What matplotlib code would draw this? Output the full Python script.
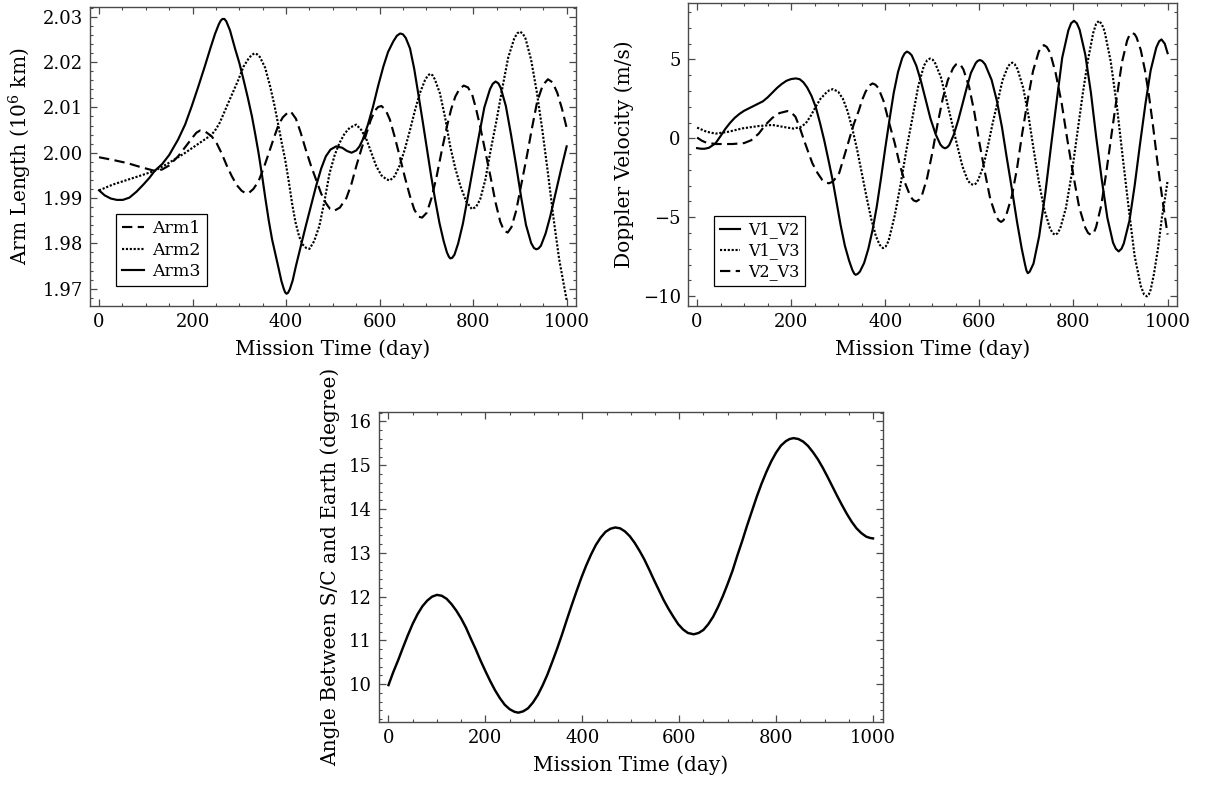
import numpy as np
import matplotlib
matplotlib.use("Agg")
import matplotlib.pyplot as plt
from matplotlib.ticker import MultipleLocator, FormatStrFormatter

# ------------------------------------------------------------
# data (day, value)
# ------------------------------------------------------------
arm1 = [(0, 1.9990), (30, 1.9984), (61, 1.9977), (90, 1.9968), (119, 1.9960), (135, 1.9963),
        (150, 1.9972), (169, 1.9992), (184, 2.0012), (198, 2.0031), (208, 2.0044), (216, 2.0049),
        (228, 2.0046), (241, 2.0036), (252, 2.0020), (262, 1.9999), (273, 1.9972), (284, 1.9948),
        (295, 1.9928), (305, 1.9916), (313, 1.9911), (320, 1.9911), (330, 1.9920), (341, 1.9937),
        (352, 1.9966), (363, 1.9999), (374, 2.0033), (384, 2.0062), (393, 2.0078), (402, 2.0087),
        (410, 2.0091), (421, 2.0075), (431, 2.0045), (442, 2.0007), (453, 1.9972), (464, 1.9941),
        (475, 1.9910), (485, 1.9889), (494, 1.9876), (503, 1.9872), (515, 1.9879), (529, 1.9900),
        (540, 1.9932), (550, 1.9970), (561, 2.0008), (572, 2.0043), (581, 2.0072), (590, 2.0093),
        (597, 2.0101), (604, 2.0103), (613, 2.0094), (622, 2.0073), (632, 2.0036), (643, 1.9992),
        (654, 1.9946), (665, 1.9904), (674, 1.9875), (683, 1.9859), (691, 1.9857), (701, 1.9868),
        (711, 1.9900), (722, 1.9948), (733, 2.0005), (744, 2.0058), (753, 2.0096), (762, 2.0124),
        (771, 2.0141), (780, 2.0148), (789, 2.0144), (798, 2.0128), (806, 2.0098), (815, 2.0058),
        (826, 2.0003), (837, 1.9948), (848, 1.9890), (858, 1.9848), (866, 1.9828), (874, 1.9824),
        (882, 1.9836), (892, 1.9872), (903, 1.9930), (915, 1.9993), (926, 2.0055), (937, 2.0113),
        (949, 2.0149), (960, 2.0162), (970, 2.0155), (980, 2.0132), (990, 2.0097), (1000, 2.0055)]

arm2 = [(0, 1.9917), (30, 1.9930), (60, 1.9940), (90, 1.9950), (119, 1.9960), (150, 1.9978),
        (183, 1.9999), (210, 2.0018), (230, 2.0032), (241, 2.0040), (250, 2.0052), (258, 2.0066),
        (266, 2.0085), (276, 2.0109), (287, 2.0135), (298, 2.0161), (309, 2.0190), (320, 2.0208),
        (326, 2.0215), (332, 2.0219), (338, 2.0217), (344, 2.0211), (355, 2.0188), (366, 2.0146),
        (375, 2.0105), (384, 2.0058), (391, 2.0020), (398, 1.9985), (406, 1.9935), (413, 1.9887),
        (420, 1.9847), (428, 1.9815), (436, 1.9797), (443, 1.9790), (450, 1.9788), (460, 1.9805),
        (471, 1.9838), (482, 1.9893), (493, 1.9955), (504, 1.9995), (514, 2.0021), (525, 2.0042),
        (536, 2.0055), (550, 2.0062), (561, 2.0050), (572, 2.0029), (583, 1.9998), (593, 1.9970),
        (604, 1.9950), (615, 1.9941), (622, 1.9939), (632, 1.9948), (643, 1.9972), (654, 2.0008),
        (665, 2.0050), (676, 2.0095), (686, 2.0131), (697, 2.0160), (703, 2.0170), (708, 2.0174),
        (713, 2.0171), (718, 2.0162), (729, 2.0131), (740, 2.0078), (751, 2.0014), (762, 1.9965),
        (773, 1.9926), (785, 1.9893), (797, 1.9876), (806, 1.9880), (815, 1.9897), (826, 1.9940),
        (837, 2.0003), (850, 2.0071), (862, 2.0140), (875, 2.0210), (888, 2.0252), (894, 2.0263),
        (900, 2.0267), (906, 2.0263), (912, 2.0252), (924, 2.0205), (936, 2.0135), (948, 2.0050),
        (960, 1.9955), (972, 1.9855), (984, 1.9765), (992, 1.9720), (1000, 1.9675)]

arm3 = [(0, 1.9917), (12, 1.9906), (25, 1.9899), (38, 1.9896), (51, 1.9896), (65, 1.9901),
        (80, 1.9914), (95, 1.9930), (108, 1.9945), (119, 1.9960), (135, 1.9975), (150, 1.9995),
        (169, 2.0029), (184, 2.0062), (198, 2.0102), (212, 2.0145), (226, 2.0190), (238, 2.0230),
        (248, 2.0262), (256, 2.0283), (260, 2.0291), (264, 2.0295), (268, 2.0295), (272, 2.0290),
        (280, 2.0270), (291, 2.0229), (300, 2.0198), (309, 2.0161), (318, 2.0122), (327, 2.0080),
        (334, 2.0041), (341, 2.0000), (349, 1.9947), (356, 1.9897), (363, 1.9850), (370, 1.9809),
        (377, 1.9777), (384, 1.9745), (390, 1.9717), (395, 1.9700), (398, 1.9692), (401, 1.9689),
        (404, 1.9691), (408, 1.9699), (414, 1.9718), (421, 1.9750), (431, 1.9792), (442, 1.9838),
        (453, 1.9882), (464, 1.9926), (475, 1.9965), (485, 1.9992), (495, 2.0007), (507, 2.0014),
        (520, 2.0011), (530, 2.0004), (540, 2.0000), (550, 2.0005), (557, 2.0014), (564, 2.0029),
        (575, 2.0062), (586, 2.0102), (597, 2.0148), (608, 2.0190), (618, 2.0222), (629, 2.0245),
        (637, 2.0258), (644, 2.0263), (650, 2.0261), (656, 2.0253), (665, 2.0230), (674, 2.0185),
        (683, 2.0128), (692, 2.0070), (701, 2.0010), (710, 1.9950), (719, 1.9895), (728, 1.9845),
        (737, 1.9805), (744, 1.9780), (748, 1.9771), (751, 1.9767), (755, 1.9768), (760, 1.9775),
        (768, 1.9800), (778, 1.9843), (787, 1.9893), (799, 1.9962), (812, 2.0035), (824, 2.0100),
        (836, 2.0140), (842, 2.0152), (848, 2.0157), (854, 2.0153), (859, 2.0143), (870, 2.0103),
        (881, 2.0040), (892, 1.9972), (903, 1.9900), (913, 1.9841), (924, 1.9801), (930, 1.9790),
        (935, 1.9787), (940, 1.9789), (945, 1.9795), (955, 1.9822), (965, 1.9860), (975, 1.9905),
        (988, 1.9963), (1000, 2.0014)]

v1_v2 = [(0, -0.62), (8, -0.66), (16, -0.66), (25, -0.6), (39, -0.32), (50, 0.15), (60, 0.6),
         (70, 0.98), (80, 1.3), (90, 1.55), (100, 1.75), (110, 1.9), (120, 2.05), (130, 2.2),
         (140, 2.35), (150, 2.6), (160, 2.9), (170, 3.2), (180, 3.45), (190, 3.65), (200, 3.76),
         (210, 3.8), (218, 3.75), (226, 3.55), (234, 3.22), (243, 2.7), (252, 2.0), (261, 1.0),
         (270, -0.1), (279, -1.35), (288, -2.64), (297, -4.15), (305, -5.5), (314, -6.8),
         (323, -7.75), (330, -8.35), (334, -8.58), (337, -8.65), (341, -8.6), (346, -8.45),
         (355, -7.9), (364, -7.0), (373, -5.8), (382, -4.3), (391, -2.5), (400, -0.6), (409, 1.2),
         (418, 2.9), (427, 4.2), (436, 5.1), (441, 5.38), (446, 5.5), (451, 5.42), (456, 5.27),
         (466, 4.6), (476, 3.6), (486, 2.43), (496, 1.25), (507, 0.26), (517, -0.39), (522, -0.56),
         (527, -0.63), (532, -0.56), (536, -0.42), (545, 0.19), (555, 1.15), (564, 2.17),
         (573, 3.2), (582, 4.15), (592, 4.76), (596, 4.9), (601, 4.97), (606, 4.9), (612, 4.7),
         (626, 3.7), (637, 2.4), (648, 0.7), (658, -1.2), (669, -3.2), (680, -5.3), (690, -7.0),
         (697, -8.0), (700, -8.38), (703, -8.55), (707, -8.45), (715, -7.94), (727, -6.21),
         (740, -3.5), (752, -0.55), (764, 2.3), (776, 5.11), (789, 6.84), (795, 7.3), (801, 7.45),
         (807, 7.3), (813, 6.89), (825, 5.32), (837, 2.9), (848, 0.14), (860, -2.6), (872, -5.04),
         (884, -6.61), (890, -7.0), (896, -7.17), (902, -7.0), (907, -6.66), (919, -5.21),
         (930, -3.0), (941, -0.45), (953, 2.2), (964, 4.31), (976, 5.76), (982, 6.15), (987, 6.27),
         (994, 6.0), (1000, 5.4)]

v1_v3 = [(0, 0.68), (10, 0.55), (20, 0.42), (39, 0.3), (67, 0.42), (96, 0.63), (131, 0.78),
         (160, 0.85), (188, 0.7), (205, 0.62), (220, 0.72), (231, 0.95), (242, 1.45), (252, 2.0),
         (262, 2.5), (273, 2.85), (281, 3.05), (289, 3.12), (300, 2.95), (310, 2.5), (320, 1.7),
         (330, 0.6), (340, -0.7), (350, -2.2), (360, -3.7), (370, -5.1), (380, -6.2), (388, -6.75),
         (395, -6.96), (401, -6.85), (407, -6.5), (420, -4.9), (432, -3.0), (445, -0.7), (457, 1.2),
         (470, 3.3), (482, 4.6), (489, 4.95), (495, 5.06), (501, 4.98), (506, 4.76), (518, 3.89),
         (530, 2.45), (541, 1.05), (552, -0.35), (564, -1.78), (575, -2.65), (581, -2.88),
         (587, -2.95), (592, -2.88), (597, -2.66), (608, -1.82), (618, -0.5), (628, 0.93),
         (639, 2.35), (649, 3.67), (660, 4.51), (665, 4.72), (670, 4.8), (675, 4.7), (681, 4.39),
         (693, 3.21), (704, 1.5), (715, -0.66), (727, -2.85), (738, -4.53), (750, -5.71),
         (756, -6.02), (761, -6.12), (766, -6.02), (772, -5.7), (784, -4.4), (796, -2.3),
         (808, 0.3), (820, 2.9), (831, 5.0), (842, 6.7), (848, 7.25), (854, 7.45), (860, 7.25),
         (866, 6.8), (879, 4.9), (892, 2.1), (905, -1.29), (918, -4.6), (930, -7.47), (943, -9.36),
         (950, -9.9), (956, -10.02), (960, -9.9), (964, -9.6), (971, -8.6), (980, -6.9),
         (988, -5.0), (995, -3.7), (1000, -2.7)]

v2_v3 = [(0, 0.05), (10, -0.15), (20, -0.28), (40, -0.36), (75, -0.36), (100, -0.3), (115, -0.12),
         (131, 0.3), (145, 0.85), (160, 1.3), (175, 1.6), (192, 1.73), (200, 1.65), (209, 1.37),
         (218, 0.7), (227, -0.1), (236, -0.85), (245, -1.58), (256, -2.2), (266, -2.64),
         (273, -2.8), (280, -2.85), (286, -2.78), (291, -2.65), (302, -2.2), (312, -1.2),
         (323, -0.1), (333, 0.9), (344, 1.79), (351, 2.45), (358, 2.95), (366, 3.35), (373, 3.48),
         (379, 3.4), (385, 3.2), (396, 2.39), (408, 1.0), (420, -0.3), (431, -1.7), (443, -2.91),
         (454, -3.72), (460, -3.93), (466, -4.0), (472, -3.88), (478, -3.6), (489, -2.5),
         (500, -0.9), (511, 0.9), (522, 2.5), (533, 3.7), (544, 4.45), (550, 4.68), (555, 4.75),
         (560, 4.66), (566, 4.37), (578, 3.28), (589, 1.7), (600, -0.28), (612, -2.2),
         (623, -3.83), (635, -4.92), (641, -5.2), (646, -5.3), (651, -5.2), (657, -4.87),
         (669, -3.66), (680, -1.9), (691, 0.31), (703, 2.5), (714, 4.27), (726, 5.48), (731, 5.78),
         (737, 5.91), (743, 5.8), (750, 5.45), (762, 4.15), (775, 2.2), (787, -0.1), (800, -2.4),
         (812, -4.36), (825, -5.66), (831, -6.0), (837, -6.12), (843, -6.0), (848, -5.63),
         (859, -4.25), (870, -2.1), (881, 0.29), (892, 2.6), (903, 4.82), (914, 6.2), (919, 6.55),
         (925, 6.69), (930, 6.6), (934, 6.4), (943, 5.6), (952, 4.3), (960, 2.8), (969, 0.8),
         (978, -1.4), (985, -3.0), (992, -4.5), (1000, -6.1)]

angle = [(0, 9.98), (10, 10.28), (20, 10.55), (30, 10.84), (40, 11.12), (50, 11.38), (60, 11.6),
         (70, 11.78), (80, 11.91), (90, 12.0), (100, 12.04), (110, 12.02), (120, 11.95),
         (130, 11.83), (140, 11.68), (150, 11.5), (160, 11.29), (170, 11.04), (180, 10.8),
         (190, 10.54), (200, 10.3), (210, 10.07), (220, 9.86), (230, 9.68), (240, 9.53),
         (250, 9.43), (260, 9.37), (268, 9.35), (278, 9.38), (288, 9.45), (298, 9.58), (308, 9.75),
         (318, 9.97), (328, 10.22), (338, 10.51), (348, 10.81), (358, 11.13), (368, 11.47),
         (378, 11.8), (388, 12.12), (398, 12.43), (408, 12.71), (418, 12.96), (428, 13.18),
         (438, 13.35), (448, 13.48), (458, 13.55), (468, 13.58), (478, 13.56), (488, 13.49),
         (498, 13.38), (508, 13.23), (518, 13.05), (528, 12.85), (538, 12.62), (548, 12.38),
         (558, 12.15), (568, 11.92), (578, 11.72), (588, 11.54), (598, 11.37), (608, 11.25),
         (618, 11.17), (630, 11.14), (640, 11.17), (650, 11.24), (660, 11.37), (670, 11.54),
         (680, 11.76), (690, 12.01), (700, 12.29), (710, 12.59), (720, 12.94), (730, 13.27),
         (740, 13.62), (750, 13.95), (760, 14.28), (770, 14.58), (780, 14.85), (790, 15.09),
         (800, 15.29), (810, 15.45), (820, 15.55), (828, 15.6), (836, 15.62), (846, 15.6),
         (856, 15.54), (866, 15.44), (876, 15.3), (886, 15.14), (896, 14.95), (906, 14.74),
         (916, 14.52), (926, 14.3), (936, 14.09), (946, 13.89), (956, 13.71), (966, 13.56),
         (976, 13.45), (986, 13.37), (994, 13.34), (1000, 13.33)]

# ------------------------------------------------------------
# style
# ------------------------------------------------------------
plt.rcParams['font.family'] = ['DejaVu Serif']
plt.rcParams['mathtext.default'] = 'regular'

FRAME = '#4a4a4a'
LW = 1.55
DASH = (0, (4.8, 2.5))
DOT = (0, (1, 0.8))


def xy(pairs):
    a = np.array(pairs, dtype=float)
    return a[:, 0], a[:, 1]


def frame(ax, ylim, ymaj, ymin):
    ax.set_xlim(-20, 1020)
    ax.set_ylim(*ylim)
    ax.xaxis.set_major_locator(MultipleLocator(200))
    ax.xaxis.set_minor_locator(MultipleLocator(50))
    ax.yaxis.set_major_locator(MultipleLocator(ymaj))
    ax.yaxis.set_minor_locator(MultipleLocator(ymin))
    ax.tick_params(which='both', direction='in', top=True, right=True,
                   color=FRAME, labelsize=13, pad=5)
    ax.tick_params(which='major', length=5, width=0.9)
    ax.tick_params(which='minor', length=2.5, width=0.8)
    for s in ax.spines.values():
        s.set_color(FRAME)
        s.set_linewidth(1.0)
    ax.set_xlabel('Mission Time (day)', fontsize=14.5, labelpad=6)


def add_legend(ax, size):
    leg = ax.legend(loc='lower left', bbox_to_anchor=(0.054, 0.066), borderaxespad=0,
                    fancybox=False, edgecolor='black', framealpha=1, fontsize=size,
                    handlelength=1.25, handletextpad=0.5, labelspacing=0.25, borderpad=0.35)
    leg.get_frame().set_linewidth(0.9)


W, H = 1209, 787
fig = plt.figure(figsize=(W / 100, H / 100), dpi=100)

# arm length
ax1 = fig.add_axes([89.7 / W, 1 - 306 / H, 486.3 / W, 299.3 / H])
ax1.plot(*xy(arm1), color='black', lw=LW, linestyle=DASH, label='Arm1')
ax1.plot(*xy(arm2), color='black', lw=LW, linestyle=DOT, label='Arm2')
ax1.plot(*xy(arm3), color='black', lw=LW, linestyle='-', label='Arm3')
frame(ax1, (1.9662, 2.0322), 0.01, 0.002)
ax1.yaxis.set_major_formatter(FormatStrFormatter('%.2f'))
ax1.set_ylabel('Arm Length (10$^{6}$ km)', fontsize=14.5, labelpad=6)
add_legend(ax1, 12.5)

# doppler velocity
ax2 = fig.add_axes([687.7 / W, 1 - 306 / H, 489.3 / W, 303.3 / H])
ax2.plot(*xy(v1_v2), color='black', lw=LW, linestyle='-', label='V1_V2')
ax2.plot(*xy(v1_v3), color='black', lw=LW, linestyle=DOT, label='V1_V3')
ax2.plot(*xy(v2_v3), color='black', lw=LW, linestyle=DASH, label='V2_V3')
frame(ax2, (-10.63, 8.6), 5, 1)
ax2.set_ylabel('Doppler Velocity (m/s)', fontsize=14.5, labelpad=6)
add_legend(ax2, 11.5)

# angle between S/C and Earth
ax3 = fig.add_axes([378.8 / W, 1 - 722.3 / H, 503.9 / W, 310 / H])
ax3.plot(*xy(angle), color='black', lw=LW + 0.2)
frame(ax3, (9.13, 16.21), 1, 0.2)
ax3.set_ylabel('Angle Between S/C and Earth (degree)', fontsize=14.5, labelpad=6)

fig.savefig('out.png', dpi=100)
